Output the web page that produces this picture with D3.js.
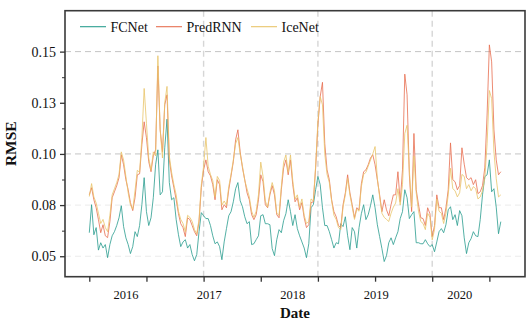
<!DOCTYPE html>
<html>
<head>
<meta charset="utf-8">
<script src="https://cdn.jsdelivr.net/npm/d3@7"></script>
<style>
  html, body { margin: 0; padding: 0; background: #fff; }
  svg { display: block; font-family: "Liberation Serif", "Times New Roman", serif; }
</style>
</head>
<body>
<svg id="chart" width="532" height="322"></svg>
<script>
// ---- data (day index from series start, 10-day sampling) ----
const seriesNames = ["FCNet", "PredRNN", "IceNet"];
const seriesColors = ["#2a9d8f", "#e76f51", "#e9c46a"];
const days = d3.range(0, 1801, 10);

const fcnet = [
  0.0615,0.0752,0.0605,0.0640,0.0530,0.0566,0.0540,0.0557,0.0493,0.0557,
  0.0600,0.0620,0.0650,0.0688,0.0747,0.0645,0.0590,0.0557,0.0513,0.0547,
  0.0620,0.0596,0.0650,0.0752,0.0884,0.0718,0.0650,0.0688,0.0786,0.0947,
  0.1020,0.0800,0.0815,0.1030,0.1170,0.0860,0.0776,0.0786,0.0679,0.0605,
  0.0547,0.0570,0.0581,0.0540,0.0557,0.0508,0.0478,0.0508,0.0620,0.0713,
  0.0698,0.0684,0.0684,0.0650,0.0600,0.0561,0.0570,0.0547,0.0483,0.0570,
  0.0635,0.0698,0.0718,0.0766,0.0830,0.0860,0.0771,0.0742,0.0693,0.0659,
  0.0669,0.0557,0.0561,0.0581,0.0600,0.0698,0.0703,0.0659,0.0659,0.0654,
  0.0537,0.0503,0.0581,0.0630,0.0615,0.0674,0.0708,0.0776,0.0718,0.0650,
  0.0703,0.0635,0.0600,0.0570,0.0540,0.0493,0.0561,0.0737,0.0752,0.0825,
  0.0890,0.0850,0.0737,0.0650,0.0650,0.0620,0.0581,0.0540,0.0566,0.0561,
  0.0659,0.0645,0.0693,0.0600,0.0532,0.0640,0.0620,0.0540,0.0640,0.0708,
  0.0752,0.0679,0.0703,0.0747,0.0800,0.0737,0.0654,0.0596,0.0537,0.0474,
  0.0503,0.0566,0.0590,0.0557,0.0590,0.0620,0.0684,0.0718,0.0825,0.0786,
  0.0684,0.0703,0.0718,0.0566,0.0566,0.0561,0.0561,0.0581,0.0561,0.0547,
  0.0557,0.0522,0.0570,0.0620,0.0635,0.0615,0.0654,0.0727,0.0742,0.0679,
  0.0703,0.0650,0.0723,0.0698,0.0590,0.0513,0.0566,0.0586,0.0620,0.0600,
  0.0596,0.0679,0.0800,0.0889,0.0898,0.0971,0.0815,0.0830,0.0740,0.0610,0.0669
];
const predrnn = [
  0.0800,0.0835,0.0776,0.0737,0.0679,0.0615,0.0654,0.0600,0.0591,0.0669,
  0.0786,0.0815,0.0845,0.0884,0.0996,0.0947,0.0874,0.0825,0.0762,0.0723,
  0.0786,0.0898,0.0903,0.1045,0.1157,0.1079,0.0962,0.0913,0.0991,0.1020,
  0.1430,0.1118,0.1010,0.1240,0.1289,0.0971,0.0893,0.0835,0.0776,0.0708,
  0.0659,0.0640,0.0596,0.0688,0.0679,0.0650,0.0620,0.0600,0.0669,0.0835,
  0.0922,0.0971,0.0913,0.0893,0.0850,0.0776,0.0874,0.0850,0.0727,0.0752,
  0.0737,0.0825,0.0893,0.0962,0.1069,0.1118,0.1010,0.0932,0.0874,0.0810,
  0.0776,0.0703,0.0679,0.0703,0.0776,0.0898,0.0864,0.0752,0.0737,0.0800,
  0.0845,0.0800,0.0703,0.0688,0.0825,0.0932,0.0971,0.0898,0.0971,0.0850,
  0.0766,0.0786,0.0727,0.0762,0.0688,0.0640,0.0654,0.0762,0.0766,0.0931,
  0.1142,0.1280,0.1350,0.1050,0.0922,0.0874,0.0776,0.0718,0.0693,0.0650,
  0.0640,0.0752,0.0810,0.0898,0.0810,0.0752,0.0688,0.0737,0.0727,0.0854,
  0.0913,0.0922,0.0947,0.0980,0.0996,0.0947,0.0874,0.0800,0.0718,0.0776,
  0.0727,0.0698,0.0752,0.0800,0.0800,0.0913,0.0766,0.0922,0.1390,0.1289,
  0.0898,0.0718,0.1100,0.0825,0.0752,0.0688,0.0684,0.0650,0.0737,0.0708,
  0.0596,0.0650,0.0800,0.0737,0.0737,0.0679,0.0736,0.0825,0.1054,0.0874,
  0.0864,0.0825,0.0845,0.1030,0.0950,0.0884,0.0874,0.0884,0.0850,0.0874,
  0.0806,0.0815,0.0845,0.0932,0.1190,0.1533,0.1450,0.1118,0.0971,0.0898,0.0913
];
const icenet = [
  0.0792,0.0855,0.0790,0.0760,0.0710,0.0660,0.0680,0.0640,0.0620,0.0700,
  0.0800,0.0830,0.0860,0.0900,0.1010,0.0970,0.0890,0.0810,0.0750,0.0730,
  0.0820,0.0920,0.0910,0.1080,0.1320,0.1150,0.0980,0.0920,0.1010,0.0990,
  0.1480,0.1120,0.0980,0.1250,0.1330,0.0990,0.0910,0.0850,0.0800,0.0720,
  0.0680,0.0660,0.0620,0.0700,0.0690,0.0670,0.0630,0.0610,0.0680,0.0850,
  0.0940,0.1080,0.0940,0.0900,0.0870,0.0790,0.0890,0.0870,0.0750,0.0770,
  0.0750,0.0840,0.0900,0.0970,0.1050,0.1080,0.1000,0.0940,0.0870,0.0830,
  0.0790,0.0720,0.0690,0.0720,0.0800,0.0960,0.0890,0.0770,0.0740,0.0810,
  0.0860,0.0820,0.0710,0.0700,0.0840,0.0960,0.0995,0.0910,0.0995,0.0870,
  0.0780,0.0800,0.0740,0.0780,0.0700,0.0660,0.0670,0.0780,0.0770,0.0940,
  0.1160,0.1280,0.1240,0.1000,0.0900,0.0860,0.0770,0.0700,0.0680,0.0640,
  0.0630,0.0740,0.0800,0.0880,0.0800,0.0740,0.0680,0.0730,0.0720,0.0840,
  0.0900,0.0910,0.0940,0.0970,0.1000,0.1036,0.0880,0.0790,0.0710,0.0690,
  0.0680,0.0670,0.0710,0.0740,0.0760,0.0830,0.0750,0.0850,0.1100,0.1140,
  0.0920,0.0740,0.0990,0.0810,0.0720,0.0670,0.0660,0.0630,0.0710,0.0690,
  0.0580,0.0630,0.0780,0.0720,0.0710,0.0660,0.0710,0.0800,0.0930,0.0830,
  0.0820,0.0790,0.0810,0.0900,0.0890,0.0830,0.0850,0.0820,0.0840,0.0830,
  0.0780,0.0790,0.0820,0.0880,0.1050,0.1310,0.1270,0.1010,0.0880,0.0790,0.0800
];

const yTickValues = [0.05, 0.075, 0.10, 0.125, 0.15];
const yTickLabels = ["0.05", "0.08", "0.10", "0.13", "0.15"];
const yGridStrong = [0.10, 0.15];
const yGridFaint = [0.05, 0.075];
const yMinorTicks = [0.0625, 0.0875, 0.1125, 0.1375];
const xTickDays = [0, 250, 500, 750, 1000, 1250, 1500, 1750];
const xGridDays = [500, 1000, 1500];
const xLabelDays = [160, 525, 890, 1255, 1620];
const xLabels = ["2016", "2017", "2018", "2019", "2020"];

// ---- layout ----
const svg = d3.select("#chart");
const frame = { left: 65, right: 525, top: 10.7, bottom: 276.7 };

const x = d3.scaleLinear().domain([0, 1800]).range([89.3, 500.8]);
const y = d3.scaleLinear().domain([0.04, 0.17]).range([frame.bottom, frame.top]);

svg.append("rect").attr("width", 532).attr("height", 322).attr("fill", "#fff");

// grid
const grid = svg.append("g");
grid.selectAll("line.hf").data(yGridFaint).enter().append("line")
  .attr("x1", frame.left).attr("x2", frame.right)
  .attr("y1", d => y(d)).attr("y2", d => y(d))
  .attr("stroke", "#ebebeb").attr("stroke-width", 1).attr("stroke-dasharray", "6,4");
grid.selectAll("line.hs").data(yGridStrong).enter().append("line")
  .attr("x1", frame.left).attr("x2", frame.right)
  .attr("y1", d => y(d)).attr("y2", d => y(d))
  .attr("stroke", "#c4c4c4").attr("stroke-width", 1).attr("stroke-dasharray", "6,4");
grid.selectAll("line.vg").data(xGridDays).enter().append("line")
  .attr("x1", d => x(d)).attr("x2", d => x(d))
  .attr("y1", frame.top).attr("y2", frame.bottom)
  .attr("stroke", "#d6d6d6").attr("stroke-width", 1.4).attr("stroke-dasharray", "6,4");

// clip
svg.append("clipPath").attr("id", "clip").append("rect")
  .attr("x", frame.left).attr("y", frame.top)
  .attr("width", frame.right - frame.left).attr("height", frame.bottom - frame.top);

const allSeries = [fcnet, predrnn, icenet];
const line = d3.line().x((d, i) => x(days[i])).y(d => y(d));
const plot = svg.append("g").attr("clip-path", "url(#clip)");
allSeries.forEach((vals, k) => {
  plot.append("path").datum(vals)
    .attr("d", line)
    .attr("fill", "none")
    .attr("stroke", seriesColors[k])
    .attr("stroke-width", 0.95)
    .attr("stroke-opacity", 0.85)
    .attr("stroke-linejoin", "round");
});

// frame
svg.append("rect")
  .attr("x", frame.left).attr("y", frame.top)
  .attr("width", frame.right - frame.left).attr("height", frame.bottom - frame.top)
  .attr("fill", "none").attr("stroke", "#3a3a3a").attr("stroke-width", 1.6);

// y axis ticks
const yAxis = d3.axisLeft(y).tickValues(yTickValues)
  .tickFormat((d, i) => yTickLabels[i]).tickSize(5).tickPadding(4);
const gy = svg.append("g").attr("transform", `translate(${frame.left},0)`).call(yAxis);
gy.select(".domain").remove();
gy.selectAll(".tick line").attr("stroke", "#333").attr("stroke-width", 1.3);
gy.selectAll(".tick text").attr("font-size", 14).attr("fill", "#111")
  .attr("font-family", "'Liberation Serif', 'Times New Roman', serif");
const yMinor = d3.axisLeft(y).tickValues(yMinorTicks).tickFormat("").tickSize(3);
const gym = svg.append("g").attr("transform", `translate(${frame.left},0)`).call(yMinor);
gym.select(".domain").remove();
gym.selectAll(".tick line").attr("stroke", "#333").attr("stroke-width", 1);

// x axis ticks
const xAxis = d3.axisBottom(x).tickValues(xTickDays).tickFormat("").tickSize(5);
const gx = svg.append("g").attr("transform", `translate(0,${frame.bottom})`).call(xAxis);
gx.select(".domain").remove();
gx.selectAll(".tick line").attr("stroke", "#333").attr("stroke-width", 1.3);

svg.append("g").selectAll("text").data(xLabelDays).enter().append("text")
  .attr("x", d => x(d)).attr("y", 299)
  .attr("text-anchor", "middle").attr("font-size", 12.5).attr("fill", "#111")
  .text((d, i) => xLabels[i]);

// axis titles
svg.append("text").attr("x", (frame.left + frame.right) / 2).attr("y", 318)
  .attr("text-anchor", "middle").attr("font-size", 15).attr("font-weight", "bold")
  .attr("fill", "#111").text("Date");
svg.append("text")
  .attr("transform", `translate(16,${(frame.top + frame.bottom) / 2}) rotate(-90)`)
  .attr("text-anchor", "middle").attr("font-size", 15.5).attr("font-weight", "bold")
  .attr("fill", "#111").text("RMSE");

// legend
const legendStarts = [80, 156, 251];
const legend = svg.append("g");
seriesNames.forEach((name, k) => {
  const gx0 = legendStarts[k];
  legend.append("line")
    .attr("x1", gx0).attr("x2", gx0 + 26).attr("y1", 26.7).attr("y2", 26.7)
    .attr("stroke", seriesColors[k]).attr("stroke-width", 1.1);
  legend.append("text").attr("x", gx0 + 30.5).attr("y", 31.5)
    .attr("font-size", 14).attr("fill", "#111").text(name);
});
</script>
</body>
</html>
